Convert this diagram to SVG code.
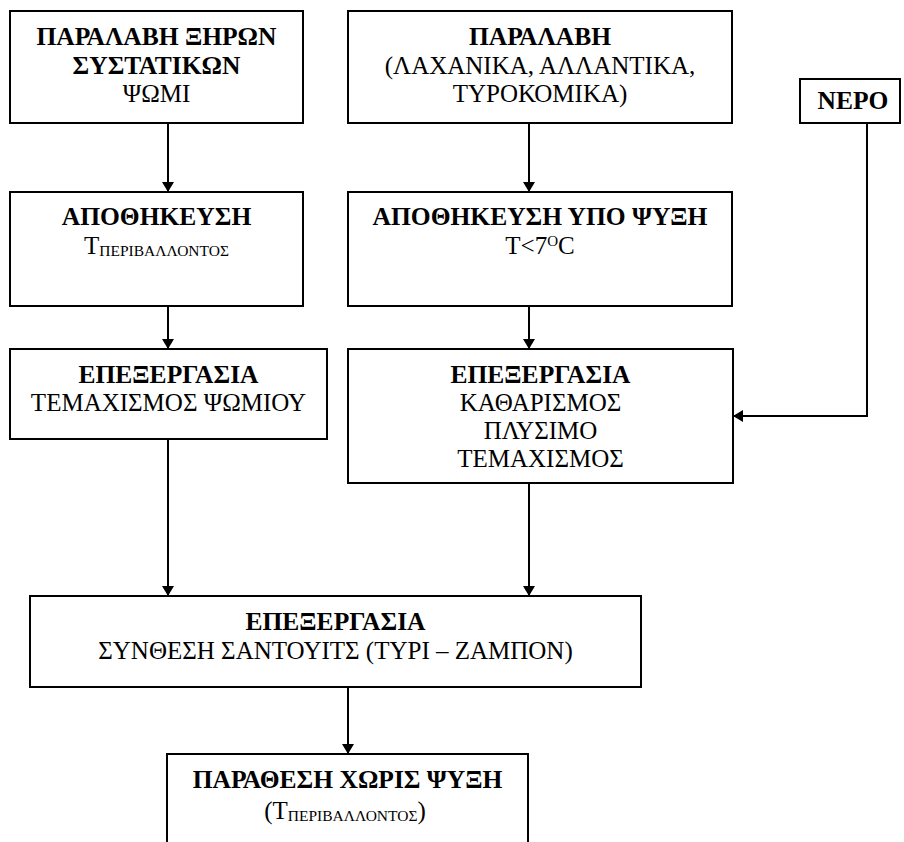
<svg xmlns="http://www.w3.org/2000/svg" width="904" height="842" viewBox="0 0 904 842">
  <style>
    .box { fill: #fff; stroke: #000; stroke-width: 2; }
    .open { fill: none; stroke: #000; stroke-width: 2; }
    .edge { fill: none; stroke: #000; stroke-width: 2; }
    text { font-size: 25px; fill: #000; text-anchor: middle; }
    .b { font-weight: bold; font-size: 25.5px; }
    .sub { font-size: 15.5px; }
    .sup { font-size: 15px; }
  </style>
  <defs>
    <marker id="arrow" viewBox="0 0 10 12" refX="10" refY="6" markerWidth="10" markerHeight="12" markerUnits="userSpaceOnUse" orient="auto">
      <path d="M0,0 L10,6 L0,12 Z" fill="#000"/>
    </marker>
  </defs>

  <rect width="904" height="842" fill="#fff"/>

  <!-- connectors -->
  <g id="connectors">
    <line class="edge" x1="168" y1="123" x2="168" y2="192" marker-end="url(#arrow)"/>
    <line class="edge" x1="529" y1="123" x2="529" y2="192" marker-end="url(#arrow)"/>
    <line class="edge" x1="168" y1="306" x2="168" y2="349" marker-end="url(#arrow)"/>
    <line class="edge" x1="529" y1="306" x2="529" y2="349" marker-end="url(#arrow)"/>
    <polyline class="edge" points="867,123 867,416 733,416" marker-end="url(#arrow)"/>
    <line class="edge" x1="168" y1="439" x2="168" y2="596" marker-end="url(#arrow)"/>
    <line class="edge" x1="529" y1="483" x2="529" y2="596" marker-end="url(#arrow)"/>
    <line class="edge" x1="348" y1="687" x2="348" y2="754" marker-end="url(#arrow)"/>
  </g>

  <g font-family="'Liberation Serif', 'Times New Roman', serif">
    <!-- receiving dry ingredients -->
    <g id="receive-dry">
      <rect class="box" x="10" y="11" width="293" height="112"/>
      <text class="b" x="156.5" y="45">ΠΑΡΑΛΑΒΗ ΞΗΡΩΝ</text>
      <text class="b" x="156.5" y="74">ΣΥΣΤΑΤΙΚΩΝ</text>
      <text x="156.5" y="102">ΨΩΜΙ</text>
    </g>

    <!-- receiving chilled goods -->
    <g id="receive-chilled">
      <rect class="box" x="348" y="11" width="384" height="112"/>
      <text class="b" x="540" y="45">ΠΑΡΑΛΑΒΗ</text>
      <text x="540" y="74">(ΛΑΧΑΝΙΚΑ, ΑΛΛΑΝΤΙΚΑ,</text>
      <text x="540" y="102">ΤΥΡΟΚΟΜΙΚΑ)</text>
    </g>

    <!-- water -->
    <g id="water">
      <rect class="box" x="800" y="79" width="100" height="44"/>
      <text class="b" x="853" y="109">ΝΕΡΟ</text>
    </g>

    <!-- ambient storage -->
    <g id="store-ambient">
      <rect class="box" x="10" y="192" width="293" height="114"/>
      <text class="b" x="156.5" y="225">ΑΠΟΘΗΚΕΥΣΗ</text>
      <text x="156.5" y="254">Τ<tspan class="sub" dy="2">ΠΕΡΙΒΑΛΛΟΝΤΟΣ</tspan></text>
    </g>

    <!-- chilled storage -->
    <g id="store-chilled">
      <rect class="box" x="348" y="192" width="384" height="114"/>
      <text class="b" x="540" y="225">ΑΠΟΘΗΚΕΥΣΗ ΥΠΟ ΨΥΞΗ</text>
      <text x="540" y="254">Τ&lt;7<tspan class="sup" dy="-8">O</tspan><tspan dy="8">C</tspan></text>
    </g>

    <!-- bread processing -->
    <g id="process-bread">
      <rect class="box" x="10" y="349" width="317" height="90"/>
      <text class="b" x="168.5" y="383">ΕΠΕΞΕΡΓΑΣΙΑ</text>
      <text x="168.5" y="411">ΤΕΜΑΧΙΣΜΟΣ ΨΩΜΙΟΥ</text>
    </g>

    <!-- chilled goods processing -->
    <g id="process-chilled">
      <rect class="box" x="348" y="349" width="385" height="134"/>
      <text class="b" x="540.5" y="383">ΕΠΕΞΕΡΓΑΣΙΑ</text>
      <text x="540.5" y="411">ΚΑΘΑΡΙΣΜΟΣ</text>
      <text x="540.5" y="439">ΠΛΥΣΙΜΟ</text>
      <text x="540.5" y="467">ΤΕΜΑΧΙΣΜΟΣ</text>
    </g>

    <!-- sandwich assembly -->
    <g id="assemble">
      <rect class="box" x="30" y="596" width="611" height="91"/>
      <text class="b" x="335.5" y="630">ΕΠΕΞΕΡΓΑΣΙΑ</text>
      <text x="335.5" y="659">ΣΥΝΘΕΣΗ ΣΑΝΤΟΥΙΤΣ (ΤΥΡΙ – ΖΑΜΠΟΝ)</text>
    </g>

    <!-- display without refrigeration -->
    <g id="display">
      <path class="open" d="M167,843 L167,754 L528,754 L528,843"/>
      <text class="b" x="347.5" y="788">ΠΑΡΑΘΕΣΗ ΧΩΡΙΣ ΨΥΞΗ</text>
      <text x="345" y="819">(Τ<tspan class="sub" dy="2">ΠΕΡΙΒΑΛΛΟΝΤΟΣ</tspan><tspan dy="-2">)</tspan></text>
    </g>
  </g>
</svg>
